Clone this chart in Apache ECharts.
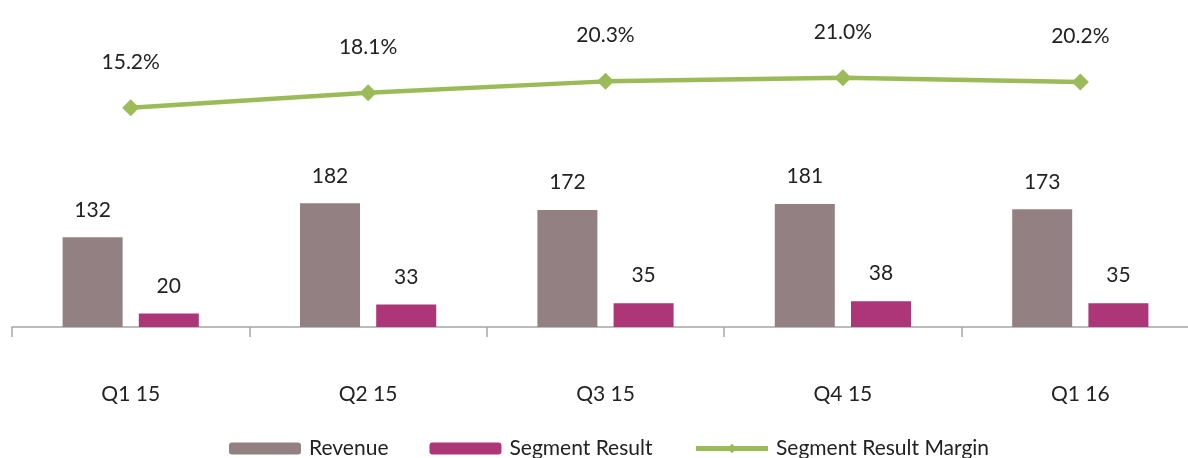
<!DOCTYPE html>
<html>
<head>
<meta charset="utf-8">
<script src="https://cdn.jsdelivr.net/npm/echarts@6/dist/echarts.min.js"></script>
<style>
  html, body { margin: 0; padding: 0; background: #fff; overflow: hidden; }
  #chart { width: 1199px; height: 458px; }
</style>
</head>
<body>
<div id="chart"></div>
<script>
const categories = ['Q1 15', 'Q2 15', 'Q3 15', 'Q4 15', 'Q1 16'];
const revenue = [132, 182, 172, 181, 173];
const segmentResult = [20, 33, 35, 38, 35];
const segmentMargin = [15.2, 18.1, 20.3, 21.0, 20.2];

const font = 'Lato, "Open Sans", sans-serif';
let myChart = echarts.init(document.getElementById('chart'));
myChart.setOption({
  animation: false,
  textStyle: { fontFamily: font },
  legend: {
    left: 224,
    top: 433,
    itemWidth: 72,
    itemHeight: 12,
    itemGap: 41,
    textStyle: { fontSize: 21, color: '#222', fontFamily: font, padding: [0, 0, 0, 3] },
    data: [
      'Revenue',
      'Segment Result',
      { name: 'Segment Result Margin', lineStyle: { width: 5 } }
    ]
  },
  grid: { left: 12, right: 0, top: 55, bottom: 131 },
  xAxis: {
    type: 'category',
    data: categories,
    axisLine: { lineStyle: { color: '#a6a6a6', width: 1.5 } },
    axisTick: { show: true, length: 10, lineStyle: { color: '#a6a6a6', width: 1.5 } },
    axisLabel: { margin: 57, fontSize: 21, color: '#222', fontFamily: font }
  },
  yAxis: [
    { type: 'value', min: 0, max: 400, show: false, splitLine: { show: false } },
    { type: 'value', min: -27.2, max: 25.4, show: false, splitLine: { show: false } }
  ],
  series: [
    {
      name: 'Revenue',
      type: 'bar',
      data: revenue,
      barWidth: 60,
      barGap: '27%',
      itemStyle: { color: '#938082' },
      label: { show: true, position: 'top', distance: 17, fontSize: 21, color: '#222', fontFamily: font }
    },
    {
      name: 'Segment Result',
      type: 'bar',
      data: segmentResult,
      barWidth: 60,
      itemStyle: { color: '#ad3678' },
      label: { show: true, position: 'top', distance: 17, fontSize: 21, color: '#222', fontFamily: font }
    },
    {
      name: 'Segment Result Margin',
      type: 'line',
      yAxisIndex: 1,
      data: segmentMargin,
      symbol: 'diamond',
      symbolSize: 17,
      lineStyle: { color: '#9bbb59', width: 4.5 },
      itemStyle: { color: '#9bbb59' },
      label: {
        show: true, position: 'top', distance: 27, fontSize: 21, color: '#222', fontFamily: font,
        formatter: p => p.value.toFixed(1) + '%'
      }
    }
  ]
});
</script>
</body>
</html>
